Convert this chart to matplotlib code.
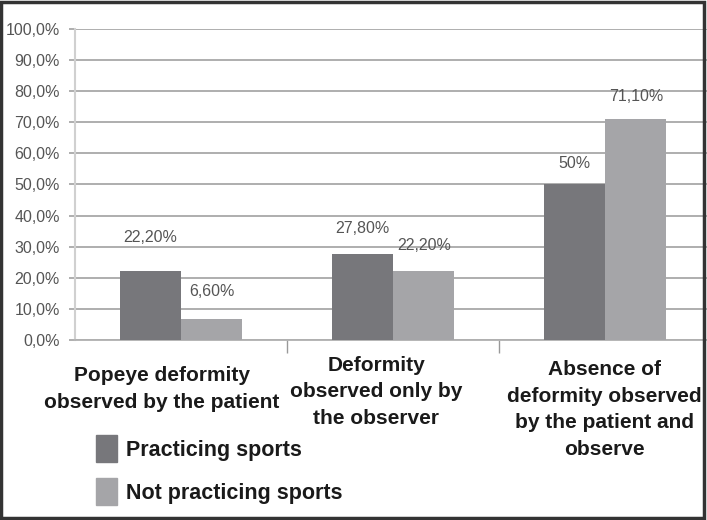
import matplotlib.pyplot as plt
from matplotlib.patches import Patch, Rectangle
import numpy as np

categories = ['Popeye deformity\nobserved by the patient',
              'Deformity\nobserved only by\nthe observer',
              'Absence of\ndeformity observed\nby the patient and\nobserve']
practicing = [22.2, 27.8, 50.0]
not_practicing = [6.6, 22.2, 71.1]
practicing_labels = ['22,20%', '27,80%', '50%']
not_practicing_labels = ['6,60%', '22,20%', '71,10%']
series_names = ['Practicing sports', 'Not practicing sports']
yticks = np.arange(0, 101, 10)

dark = '#77777b'
light = '#a5a5a8'
thin = ['Liberation Sans', 'DejaVu Sans']
bold = ['Liberation Sans', 'DejaVu Sans']

fig = plt.figure(figsize=(7.07, 5.2), dpi=100)
ax = fig.add_axes([0.1061, 0.3462, 0.90, 0.598])

x = np.arange(len(categories))
w = 0.288
b1 = ax.bar(x - w / 2, practicing, w, color=dark, zorder=3)
b2 = ax.bar(x + w / 2, not_practicing, w, color=light, zorder=3)

# label offsets (points above bar top), they differ a bit in the original
off1 = [24, 18, 15]
off2 = [20, 18, 16]
for i in range(len(x)):
    ax.annotate(practicing_labels[i], (x[i] - w / 2, practicing[i]),
                xytext=(0, off1[i]), textcoords='offset points',
                ha='center', va='center', fontsize=11.5, color='#555555', family=thin)
    ax.annotate(not_practicing_labels[i], (x[i] + w / 2, not_practicing[i]),
                xytext=(0, off2[i]), textcoords='offset points',
                ha='center', va='center', fontsize=11.5, color='#555555', family=thin)

ax.set_xlim(-0.5, len(categories) - 0.5)
ax.set_ylim(0, 100)
ax.set_yticks(yticks)
ax.set_yticklabels(['%d,0%%' % v for v in yticks], family=thin, fontsize=11.5, color='#555555')
ax.grid(axis='y', color='#a8a8a8', linewidth=1.3, zorder=0)
ax.tick_params(axis='y', length=4, color='#a8a8a8', width=1.3, pad=7)
ax.set_xticks([0.5, 1.5])
ax.set_xticklabels([])
ax.tick_params(axis='x', length=9, color='#999999', width=1)
for s in ['top', 'right']:
    ax.spines[s].set_visible(False)
ax.spines['left'].set_color('#d0d0d0')
ax.spines['left'].set_linewidth(1.5)
ax.spines['bottom'].set_color('#b0b0b0')
ax.spines['bottom'].set_linewidth(1.3)

# category labels
lab_dx = [-0.09, -0.08, -0.005]
lab_y = [-0.085, -0.05, -0.065]
for i, c in enumerate(categories):
    ax.text(x[i] + lab_dx[i], lab_y[i], c, transform=ax.get_xaxis_transform(),
            ha='center', va='top', fontsize=15.0, fontweight='bold', family=bold,
            color='#1a1a1a', linespacing=1.5)

handles = [Patch(color=dark), Patch(color=light)]
leg = fig.legend(handles, series_names, loc='upper left', bbox_to_anchor=(0.108, 0.2),
                 bbox_transform=fig.transFigure, frameon=False, handlelength=1.0, handleheight=1.55,
                 handletextpad=0.4, labelspacing=0.75, prop={'family': bold, 'weight': 'bold', 'size': 15.5})
for t in leg.get_texts():
    t.set_color('#1a1a1a')

fig.patches.append(Rectangle((0.002, 0.003), 0.994, 0.994, transform=fig.transFigure,
                             fill=False, edgecolor='#333333', linewidth=2.5))

fig.savefig('out.png', dpi=100)
